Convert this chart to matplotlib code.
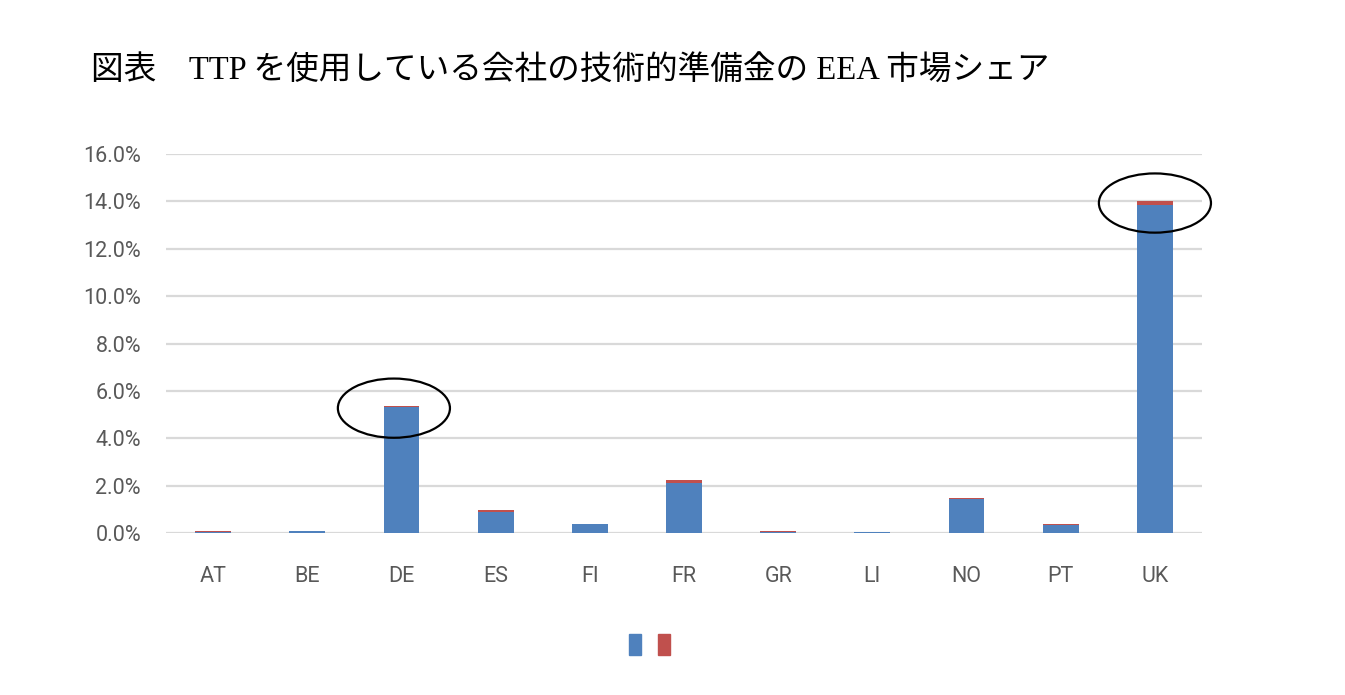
import matplotlib.pyplot as plt
from matplotlib.patches import Ellipse, Patch
from matplotlib.ticker import FuncFormatter

countries = ['AT', 'BE', 'DE', 'ES', 'FI', 'FR', 'GR', 'LI', 'NO', 'PT', 'UK']
share_blue = [0.05, 0.09, 5.30, 0.88, 0.37, 2.11, 0.03, 0.03, 1.43, 0.33, 13.85]
share_red = [0.05, 0.01, 0.07, 0.09, 0.02, 0.12, 0.04, 0.00, 0.04, 0.05, 0.18]
highlight = ['DE', 'UK']

title = '図表\u3000TTP を使用している会社の技術的準備金の EEA 市場シェア'

blue = '#4F81BD'
red = '#C0504D'
grey = '#595959'

fig = plt.figure(figsize=(13.45, 6.95), dpi=100)
ax = fig.add_axes([0.1234, 0.2331, 0.7703, 0.5453])

x = list(range(len(countries)))
ax.bar(x, share_blue, width=0.38, color=blue, zorder=3)
ax.bar(x, share_red, width=0.38, bottom=share_blue, color=red, zorder=3)

ax.set_xlim(-0.5, len(countries) - 0.5)
ax.set_ylim(0, 16)
ax.set_yticks(range(0, 17, 2))
ax.yaxis.set_major_formatter(FuncFormatter(lambda v, p: f'{v:.1f}%'))
ax.set_xticks(x)
ax.set_xticklabels(countries)
ax.grid(axis='y', color='#D9D9D9', linewidth=1.6, zorder=0)
for s in ax.spines.values():
    s.set_visible(False)
ax.tick_params(length=0, labelsize=15.5, labelcolor=grey, pad=18)
ax.tick_params(axis='x', pad=24)
for lab in ax.get_xticklabels() + ax.get_yticklabels():
    lab.set_fontfamily('Roboto')

# circle the highlighted bars
for c in highlight:
    i = countries.index(c)
    top = share_blue[i] + share_red[i]
    dx = -0.08 if c == 'DE' else 0.0
    ax.add_patch(Ellipse((i + dx, top - 0.1), 1.19, 2.5, fill=False,
                         edgecolor='black', linewidth=1.6, zorder=5, clip_on=False))

fig.legend(handles=[Patch(color=blue), Patch(color=red)], labels=['', ''],
           ncol=2, frameon=False, loc='center', bbox_to_anchor=(0.483, 0.073),
           handlelength=0.9, handleheight=1.9, columnspacing=1.2, handletextpad=0.0)

fig.text(0.068, 0.897, title, fontsize=23.5,
         family=['Liberation Serif', 'Noto Sans CJK JP', 'DejaVu Sans'],
         va='center', ha='left', color='black')

fig.savefig('out.png', dpi=100, facecolor='white')
